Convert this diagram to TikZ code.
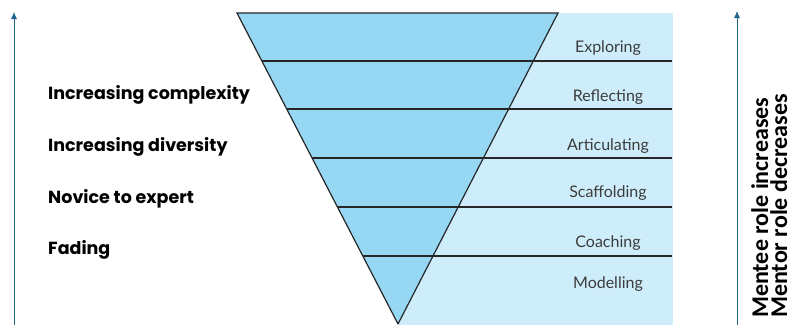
\documentclass[tikz,border=0pt]{standalone}
\usepackage{fontspec}
\setmainfont{Lato}
\newfontfamily\trendfont{Poppins}
\newfontfamily\rolefont{Carlito}
\usetikzlibrary{arrows.meta}
\definecolor{funnelblue}{RGB}{150,216,243}
\definecolor{paneblue}{RGB}{205,237,250}
\definecolor{axisblue}{RGB}{30,100,140}
\definecolor{stepgray}{RGB}{60,60,60}
\tikzset{
  layer/.style={line width=1.2pt, black!85},
  stagelabel/.style={text=stepgray, font=\fontsize{16}{18}\selectfont, anchor=center},
  trendlabel/.style={font=\trendfont\fontsize{17.5}{19}\selectfont\bfseries, anchor=west, inner sep=0pt},
  rolelabel/.style={font=\rolefont\fontsize{24}{26}\selectfont\bfseries, rotate=90, inner sep=0pt},
  axis/.style={thick, axisblue, -{Latex[length=7pt,width=6pt]}}
}
\begin{document}
\begin{tikzpicture}[x=1pt,y=-1pt]
        \useasboundingbox (0,0) rectangle (792,324);
        \clip (0,0) rectangle (792,324);

        % pane and funnel
        \fill [paneblue] (398,13) rectangle (673,330);
        \coordinate (tl) at (237,13);
        \coordinate (tr) at (558,13);
        \coordinate (apex) at (398,324);
        \fill [funnelblue] (tl) -- (tr) -- (apex) -- cycle;
        \draw [layer] (apex) -- (tl) -- (tr) -- (apex);

        % x line
        \coordinate (a1) at (262,61);  \coordinate (b1) at (672,61);
        \coordinate (a2) at (287,109); \coordinate (b2) at (672,109);
        \coordinate (a3) at (312,158); \coordinate (b3) at (672,158);
        \coordinate (a4) at (338,207); \coordinate (b4) at (672,207);
        \coordinate (a5) at (363,256); \coordinate (b5) at (672,256);
        \draw [layer] (a1) -- (b1);
        \draw [layer] (a2) -- (b2);
        \draw [layer] (a3) -- (b3);
        \draw [layer] (a4) -- (b4);
        \draw [layer] (a5) -- (b5);

        % stages
        \node [stagelabel] (exploring) at (608,48) {Exploring};
        \node [stagelabel] (reflecting) at (608,97) {Reflecting};
        \node [stagelabel] (articulating) at (608,146) {Articulating};
        \node [stagelabel] (scaffolding) at (608,193) {Scaffolding};
        \node [stagelabel] (coaching) at (608,243) {Coaching};
        \node [stagelabel] (modelling) at (608,284) {Modelling};

        % lecter
        \node [trendlabel] (complexity) at (48,95) {Increasing complexity};
        \node [trendlabel] (diversity) at (48,147) {Increasing diversity};
        \node [trendlabel] (expert) at (48,199) {Novice to expert};
        \node [trendlabel] (fading) at (48,250) {Fading};

        % arrows
        \coordinate (lbot) at (14,330); \coordinate (ltop) at (14,12);
        \coordinate (rbot) at (737,330); \coordinate (rtop) at (737,11);
        \draw [axis] (lbot) -- (ltop);
        \draw [axis] (rbot) -- (rtop);

        \node [rolelabel, anchor=base west] (mentee) at (768,318) {Mentee role increases};
        \node [rolelabel, anchor=base west] (mentor) at (787,318) {Mentor role decreases};
\end{tikzpicture}
\end{document}
